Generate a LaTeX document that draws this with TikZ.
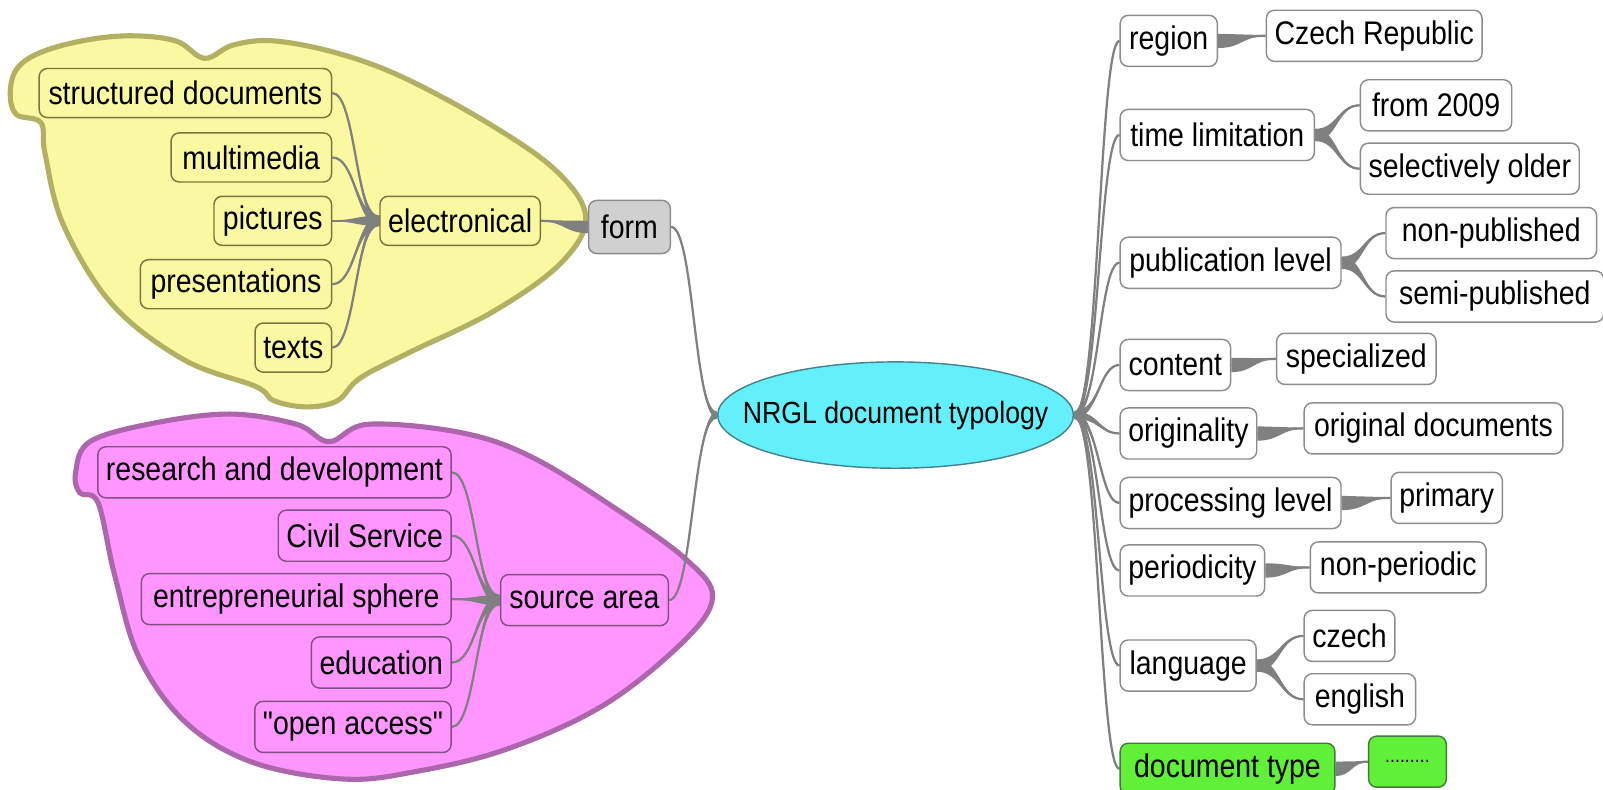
\documentclass[tikz,border=0pt]{standalone}
\usepackage{fontspec}
\setmainfont{Liberation Sans}[FakeStretch=0.87, Ligatures=TeXOff]
\usetikzlibrary{calc,shapes.geometric}
\definecolor{yfill}{RGB}{250,248,160}
\definecolor{ydraw}{RGB}{178,176,98}
\definecolor{ybord}{RGB}{120,118,60}
\definecolor{pfill}{RGB}{255,150,255}
\definecolor{pdraw}{RGB}{172,102,172}
\definecolor{pbord}{RGB}{130,80,130}
\definecolor{rbord}{RGB}{140,140,140}
\definecolor{formfill}{RGB}{208,208,208}
\definecolor{gfill}{RGB}{96,240,56}
\definecolor{gbord}{RGB}{70,120,60}
\definecolor{ellfill}{RGB}{100,240,250}
\definecolor{elldraw}{RGB}{70,130,140}
\definecolor{linkgray}{RGB}{128,128,128}
\newcommand\mmtext{\fontsize{16}{18}\selectfont}
\newcommand\mmlink[4]{%
  \fill[linkgray] let \p1=(#1), \p2=(#2), \p3=($(#1)!#4!(#2)$) in
    (\x1,\y1+#3) .. controls (\x3,\y1+#3) and (\x3,\y2+0.3pt) .. (\x2,\y2+0.3pt)
    -- (\x2,\y2-0.3pt) .. controls (\x3,\y2-0.3pt) and (\x3,\y1-#3) .. (\x1,\y1-#3) -- cycle;
  \draw[linkgray, line width=1.1pt] let \p1=(#1), \p2=(#2), \p3=($(#1)!#4!(#2)$) in
    (\p1) .. controls (\x3,\y1) and (\x3,\y2) .. (\p2);
}
\pgfdeclarelayer{clouds}
\pgfdeclarelayer{links}
\pgfsetlayers{clouds,links,main}
\begin{document}
\begin{tikzpicture}[x=0.5pt,y=-0.5pt,
  base/.style={rectangle, rounded corners=4pt, line width=0.7pt, inner xsep=4pt, inner ysep=0pt, font=\mmtext, text=black},
  ybox/.style={base, draw=ybord, fill=yfill, minimum height=24pt},
  pbox/.style={base, draw=pbord, fill=pfill, minimum height=25pt},
  rbox/.style={base, draw=rbord, fill=white, minimum height=25pt},
  formbox/.style={base, draw=rbord, fill=formfill, minimum height=26pt},
  gbox/.style={base, draw=gbord, fill=gfill, minimum height=25pt},
  ycloud/.style={fill=yfill, draw=ydraw, line width=2.5pt},
  pcloud/.style={fill=pfill, draw=pdraw, line width=2.5pt}]
\useasboundingbox (0,0) rectangle (1568,772);
\begin{pgfonlayer}{clouds}
\fill[white] (0,0) rectangle (1568,772);
\draw[ycloud] plot[smooth cycle, tension=0.6] coordinates {(10,92) (16,68) (38,52) (80,40) (127,35) (172,40) (200,57) (228,44) (268,40) (330,52) (395,76) (480,122) (545,168) (573,213) (548,258) (482,305) (400,345) (352,370) (330,392) (300,398) (268,392) (250,378) (180,352) (110,298) (62,220) (44,150) (40,120) (16,112)};
\draw[pcloud] plot[smooth cycle, tension=0.6] coordinates {(74,462) (88,432) (150,414) (225,405) (290,415) (322,432) (360,415) (450,423) (520,447) (606,500) (672,548) (697,584) (668,628) (590,690) (495,733) (405,755) (336,762) (248,746) (182,707) (136,643) (112,562) (96,492) (78,482)};
\end{pgfonlayer}
% yellow group
\node[ybox, anchor=east, minimum width=143pt] (sd) at (325,91) {structured documents};
\node[ybox, anchor=east, minimum width=78.5pt] (mm) at (325,154) {multimedia};
\node[ybox, anchor=east, minimum width=57.5pt] (pic) at (325,216) {pictures};
\node[ybox, anchor=east, minimum width=93.5pt] (pres) at (325,278) {presentations};
\node[ybox, anchor=east, minimum width=37pt] (tx) at (325,340) {texts};
\node[ybox, anchor=west, minimum width=77.5pt] (el) at (371,216) {electronical};
\node[formbox, anchor=west, minimum width=40pt] (form) at (575,222) {form};
% pink group
\node[pbox, anchor=east, minimum width=171.5pt] (rd) at (442,462) {research and development};
\node[pbox, anchor=east, minimum width=80.5pt] (cs) at (442,524) {Civil Service};
\node[pbox, anchor=east, minimum width=151.5pt] (es) at (442,586) {entrepreneurial sphere};
\node[pbox, anchor=east, minimum width=67pt] (ed) at (442,648) {education};
\node[pbox, anchor=east, minimum width=95.5pt] (oa) at (442,711) {"open access"};
\node[pbox, anchor=west, minimum width=82pt] (sa) at (489,587) {source area};
% centre
\node[ellipse, draw=elldraw, fill=ellfill, line width=0.7pt, minimum width=174pt, minimum height=52pt, inner sep=0pt] (nrgl) at (876,406) {};
\node[font=\fontsize{15}{17}\selectfont, inner sep=0pt] (nrgltext) at (nrgl.center) {NRGL document typology};
% right group
\node[rbox, anchor=west, minimum width=47.5pt] (region) at (1095,40) {region};
\node[rbox, anchor=west, minimum width=104.5pt] (czrep) at (1238,35) {Czech Republic};
\node[rbox, anchor=west, minimum width=95pt] (time) at (1095,132) {time limitation};
\node[rbox, anchor=west, minimum width=74pt] (from) at (1330,103) {from 2009};
\node[rbox, anchor=west, minimum width=106.5pt] (selold) at (1330,165) {selectively older};
\node[rbox, anchor=west, minimum width=108pt] (publev) at (1095,257) {publication level};
\node[rbox, anchor=west, minimum width=103pt] (nonpub) at (1355,228) {non-published};
\node[rbox, anchor=west, minimum width=106.5pt] (semipub) at (1355,290) {semi-published};
\node[rbox, anchor=west, minimum width=54pt] (content) at (1095,357) {content};
\node[rbox, anchor=west, minimum width=78pt] (spec) at (1248,351) {specialized};
\node[rbox, anchor=west, minimum width=66.5pt] (orig) at (1095,424) {originality};
\node[rbox, anchor=west, minimum width=126.5pt] (origdoc) at (1275,419) {original documents};
\node[rbox, anchor=west, minimum width=108pt] (proclev) at (1095,492) {processing level};
\node[rbox, anchor=west, minimum width=54pt] (primary) at (1360,487) {primary};
\node[rbox, anchor=west, minimum width=70pt] (period) at (1095,558) {periodicity};
\node[rbox, anchor=west, minimum width=86pt] (nonper) at (1281,555) {non-periodic};
\node[rbox, anchor=west, minimum width=66.5pt] (lang) at (1095,651) {language};
\node[rbox, anchor=west, minimum width=43.5pt] (cz) at (1275,622) {czech};
\node[rbox, anchor=west, minimum width=54.5pt] (en) at (1275,684) {english};
\node[gbox, anchor=west, minimum width=105pt] (doctype) at (1095,752) {document type};
\node[gbox, anchor=west, minimum width=38pt, font=\fontsize{10}{12}\selectfont] (dots) at (1338,745) {.........};
\begin{pgfonlayer}{links}
\mmlink{el.west}{sd.east}{2.5pt}{0.5}
\mmlink{el.west}{mm.east}{2.5pt}{0.5}
\mmlink{el.west}{pic.east}{2.5pt}{0.5}
\mmlink{el.west}{pres.east}{2.5pt}{0.5}
\mmlink{el.west}{tx.east}{2.5pt}{0.5}
\mmlink{form.west}{el.east}{3pt}{0.5}
\mmlink{sa.west}{rd.east}{2.5pt}{0.5}
\mmlink{sa.west}{cs.east}{2.5pt}{0.5}
\mmlink{sa.west}{es.east}{2.5pt}{0.5}
\mmlink{sa.west}{ed.east}{2.5pt}{0.5}
\mmlink{sa.west}{oa.east}{2.5pt}{0.5}
\mmlink{nrgl.west}{form.east}{1.8pt}{0.5}
\mmlink{nrgl.west}{sa.east}{1.8pt}{0.5}
\mmlink{nrgl.east}{region.west}{1.8pt}{0.55}
\mmlink{nrgl.east}{time.west}{1.8pt}{0.55}
\mmlink{nrgl.east}{publev.west}{1.8pt}{0.55}
\mmlink{nrgl.east}{content.west}{1.8pt}{0.55}
\mmlink{nrgl.east}{orig.west}{1.8pt}{0.55}
\mmlink{nrgl.east}{proclev.west}{1.8pt}{0.55}
\mmlink{nrgl.east}{period.west}{1.8pt}{0.55}
\mmlink{nrgl.east}{lang.west}{1.8pt}{0.55}
\mmlink{nrgl.east}{doctype.west}{1.8pt}{0.55}
\mmlink{region.east}{czrep.west}{3.5pt}{0.5}
\mmlink{time.east}{from.west}{3pt}{0.5}
\mmlink{time.east}{selold.west}{3pt}{0.5}
\mmlink{publev.east}{nonpub.west}{3pt}{0.5}
\mmlink{publev.east}{semipub.west}{3pt}{0.5}
\mmlink{content.east}{spec.west}{3.5pt}{0.5}
\mmlink{orig.east}{origdoc.west}{3.5pt}{0.5}
\mmlink{proclev.east}{primary.west}{3.5pt}{0.5}
\mmlink{period.east}{nonper.west}{3.5pt}{0.5}
\mmlink{lang.east}{cz.west}{3pt}{0.5}
\mmlink{lang.east}{en.west}{3pt}{0.5}
\mmlink{doctype.east}{dots.west}{3.5pt}{0.5}
\end{pgfonlayer}
\end{tikzpicture}
\end{document}
